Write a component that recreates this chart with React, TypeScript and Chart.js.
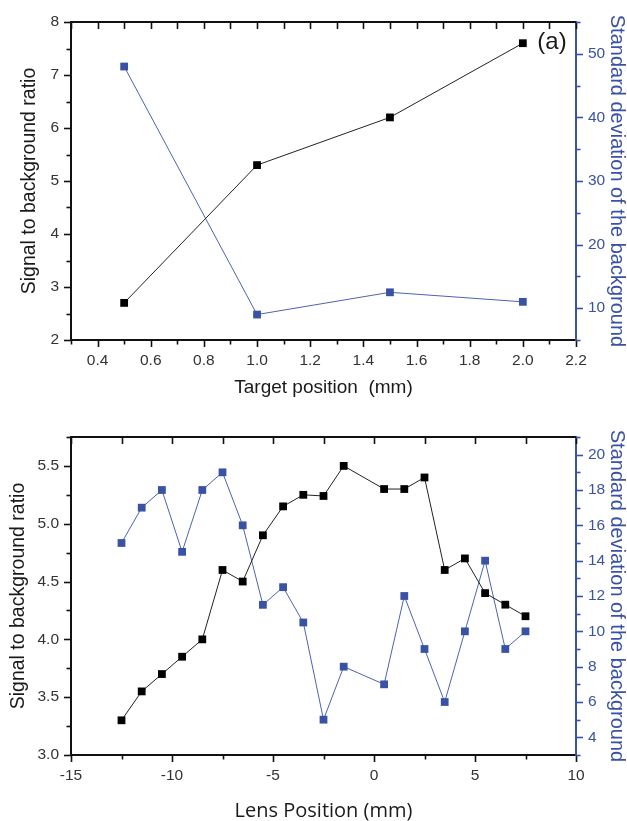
import React, { useEffect, useRef } from 'react';
import { Chart, registerables } from 'chart.js';

Chart.register(...registerables);

// ---------- Panel (a): target position ----------
const targetPositions = [0.5, 1.0, 1.5, 2.0];
const targetSignalRatio = [2.7, 5.3, 6.2, 7.6];
const targetBackgroundStd = [48, 9, 12.5, 11];

// ---------- Panel (b): lens position ----------
const lensPositions = [
  -12.5, -11.5, -10.5, -9.5, -8.5, -7.5, -6.5, -5.5, -4.5, -3.5, -2.5, -1.5,
  0.5, 1.5, 2.5, 3.5, 4.5, 5.5, 6.5, 7.5,
];
const lensSignalRatio = [
  3.3, 3.55, 3.7, 3.85, 4.0, 4.6, 4.5, 4.9, 5.15, 5.25, 5.24, 5.5,
  5.3, 5.3, 5.4, 4.6, 4.7, 4.4, 4.3, 4.2,
];
const lensBackgroundStd = [
  15, 17, 18, 14.5, 18, 19, 16, 11.5, 12.5, 10.5, 5, 8,
  7, 12, 9, 6, 10, 14, 9, 10,
];

const FONT = "'Liberation Sans', Arial, Helvetica, sans-serif";
const BLUE = '#3a52a4';
const BLUE_LINE = '#4b63b3';
const INK = '#111111';
const TICK_INK = '#333333';

const frameTicks = {
  id: 'frameTicks',
  afterDraw(chart: any, _args: any, opts: any) {
    const { ctx, chartArea: a } = chart;
    ctx.save();
    ctx.lineCap = 'butt';
    // top frame line
    ctx.strokeStyle = INK;
    ctx.lineWidth = 2;
    ctx.beginPath();
    ctx.moveTo(a.left - 1, a.top);
    ctx.lineTo(a.right, a.top);
    ctx.stroke();

    ctx.lineWidth = 1.6;
    const x = chart.scales.x;
    for (const t of x.ticks) {
      const px = Math.round(x.getPixelForValue(t.value)) + 0.5;
      const major = t.label !== '' && t.label != null;
      ctx.beginPath();
      ctx.moveTo(px, a.bottom);
      ctx.lineTo(px, a.bottom + (major ? 7 : 4.5));
      ctx.moveTo(px, a.top);
      ctx.lineTo(px, a.top + 7);
      ctx.stroke();
    }
    const yl = chart.scales.yL;
    for (const t of yl.ticks) {
      const py = Math.round(yl.getPixelForValue(t.value)) + 0.5;
      const major = t.label !== '' && t.label != null;
      ctx.beginPath();
      ctx.moveTo(a.left, py);
      ctx.lineTo(a.left - (major ? 7 : 4.5), py);
      ctx.stroke();
    }
    const yr = chart.scales.yR;
    ctx.strokeStyle = BLUE;
    for (const t of yr.ticks) {
      const py = Math.round(yr.getPixelForValue(t.value)) + 0.5;
      const major = t.label !== '' && t.label != null;
      ctx.beginPath();
      ctx.moveTo(a.right, py);
      ctx.lineTo(a.right + (major ? 7 : 4.5), py);
      ctx.stroke();
    }
    // panel label
    if (opts && opts.text) {
      ctx.fillStyle = '#1a1a1a';
      ctx.font = `${opts.size}px ${FONT}`;
      ctx.textAlign = 'center';
      ctx.textBaseline = 'middle';
      ctx.fillText(opts.text, opts.x, opts.y);
    }
    ctx.restore();
  },
};

function makeConfig(p: any) {
  const tickFont = { family: FONT, size: 15.5 };
  return {
    type: 'line',
    data: {
      datasets: [
        {
          label: 'Signal to background ratio',
          data: p.xs.map((x: number, i: number) => ({ x, y: p.left[i] })),
          yAxisID: 'yL',
          borderColor: '#222222',
          backgroundColor: '#000000',
          borderWidth: 1,
          pointStyle: 'rect',
          pointRadius: 5.5,
          pointBorderWidth: 0,
          pointBackgroundColor: '#000000',
          order: 0,
        },
        {
          label: 'Standard deviation of the background',
          data: p.xs.map((x: number, i: number) => ({ x, y: p.right[i] })),
          yAxisID: 'yR',
          borderColor: BLUE_LINE,
          backgroundColor: BLUE,
          borderWidth: 1,
          pointStyle: 'rect',
          pointRadius: 5.5,
          pointBorderWidth: 0,
          pointBackgroundColor: BLUE,
          order: 1,
        },
      ],
    },
    options: {
      responsive: false,
      animation: false,
      devicePixelRatio: 1,
      layout: { padding: { top: p.padTop, left: 0, right: 0, bottom: 0 } },
      plugins: {
        legend: { display: false },
        tooltip: { enabled: false },
        frameTicks: p.panel,
      },
      scales: {
        x: {
          type: 'linear',
          position: 'bottom',
          min: p.xMin,
          max: p.xMax,
          afterFit: (s: any) => { s.height = p.xAxisHeight; },
          grid: { display: false, drawTicks: false, drawOnChartArea: false },
          border: { display: true, color: INK, width: 2 },
          ticks: {
            stepSize: p.xStep,
            autoSkip: false,
            maxRotation: 0,
            padding: 11,
            color: TICK_INK,
            font: tickFont,
            callback: p.xLabel,
          },
          title: {
            display: true,
            text: p.xTitle,
            color: '#1a1a1a',
            font: p.xTitleFont,
            padding: { top: 0, bottom: p.xTitlePad },
          },
        },
        yL: {
          type: 'linear',
          position: 'left',
          min: p.lMin,
          max: p.lMax,
          afterFit: (s: any) => { s.width = 71; },
          grid: { display: false, drawTicks: false, drawOnChartArea: false },
          border: { display: true, color: INK, width: 2 },
          ticks: {
            stepSize: p.lStep,
            autoSkip: false,
            padding: 12,
            color: TICK_INK,
            font: tickFont,
            callback: p.lLabel,
          },
          title: {
            display: true,
            text: 'Signal to background ratio',
            color: '#1a1a1a',
            font: { family: FONT, size: 19.5, lineHeight: 1 },
            padding: { top: p.lTitlePad, bottom: 0 },
          },
        },
        yR: {
          type: 'linear',
          position: 'right',
          min: p.rMin,
          max: p.rMax,
          afterFit: (s: any) => { s.width = 51; },
          grid: { display: false, drawTicks: false, drawOnChartArea: false },
          border: { display: true, color: BLUE, width: 2 },
          ticks: {
            stepSize: p.rStep,
            autoSkip: false,
            padding: 12,
            color: BLUE,
            font: tickFont,
            callback: p.rLabel,
          },
          title: {
            display: true,
            text: 'Standard deviation of the background',
            color: BLUE,
            font: { family: FONT, size: 20, lineHeight: 1 },
            padding: { top: 0, bottom: 0 },
          },
        },
      },
    },
    plugins: [frameTicks],
  } as any;
}

const isMultiple = (v: number, m: number) => Math.abs(v / m - Math.round(v / m)) < 1e-6;

export default function App() {
  const refA = useRef<HTMLCanvasElement>(null);
  const refB = useRef<HTMLCanvasElement>(null);

  useEffect(() => {
    const cfgA = makeConfig({
      xs: targetPositions,
      left: targetSignalRatio,
      right: targetBackgroundStd,
      padTop: 22,
      xMin: 0.3,
      xMax: 2.2,
      xStep: 0.1,
      xLabel: (v: number) => (isMultiple(v, 0.2) ? v.toFixed(1) : ''),
      xAxisHeight: 410 - 340,
      xTitle: 'Target position  (mm)',
      xTitleFont: { family: FONT, size: 19, lineHeight: 1 },
      xTitlePad: 12.5,
      lMin: 2,
      lMax: 8,
      lStep: 0.5,
      lLabel: (v: number) => (isMultiple(v, 1) ? String(Math.round(v)) : ''),
      lTitlePad: 20,
      rMin: 5,
      rMax: 55,
      rStep: 5,
      rLabel: (v: number) => (isMultiple(v, 10) ? String(Math.round(v)) : ''),
      panel: { text: '(a)', x: 552, y: 42, size: 24 },
    });
    const cfgB = makeConfig({
      xs: lensPositions,
      left: lensSignalRatio,
      right: lensBackgroundStd,
      padTop: 27,
      xMin: -15,
      xMax: 10,
      xStep: 2.5,
      xLabel: (v: number) => (isMultiple(v, 5) ? String(Math.round(v)) : ''),
      xAxisHeight: 821 - 410 - 345,
      xTitle: 'Lens Position (mm)',
      xTitleFont: { family: "'Open Sans', 'Noto Sans', sans-serif", size: 20, lineHeight: 1 },
      xTitlePad: 0,
      lMin: 3,
      lMax: 5.75,
      lStep: 0.25,
      lLabel: (v: number) => (isMultiple(v, 0.5) ? v.toFixed(1) : ''),
      lTitlePad: 9,
      rMin: 3,
      rMax: 21,
      rStep: 1,
      rLabel: (v: number) => (isMultiple(v, 2) ? String(Math.round(v)) : ''),
      panel: { text: '(b)', x: 548, y: 464, size: 24 },
    });
    const a = new Chart(refA.current as HTMLCanvasElement, cfgA);
    const b = new Chart(refB.current as HTMLCanvasElement, cfgB);
    return () => {
      a.destroy();
      b.destroy();
    };
  }, []);

  return (
    <div style={{ position: 'absolute', left: 0, top: 0, width: 627, height: 821, background: '#ffffff' }}>
      <canvas ref={refA} width={627} height={410} style={{ position: 'absolute', left: 0, top: 0 }} />
      <canvas ref={refB} width={627} height={411} style={{ position: 'absolute', left: 0, top: 410 }} />
    </div>
  );
}
